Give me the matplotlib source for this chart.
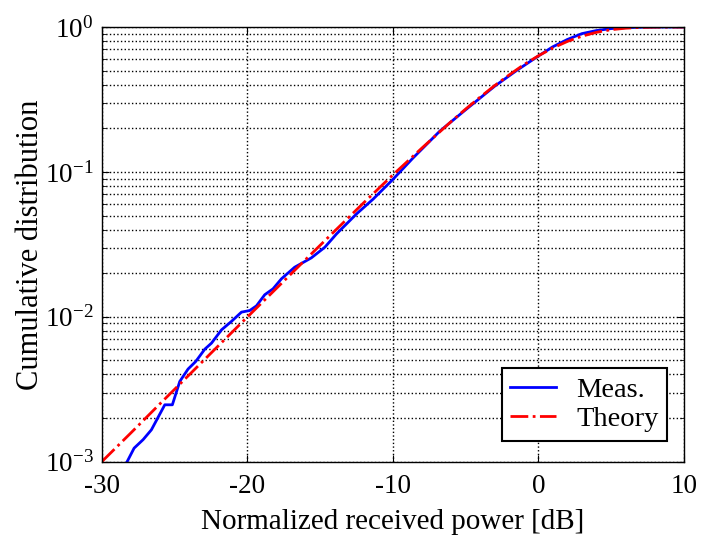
import matplotlib
matplotlib.use("Agg")
import matplotlib.pyplot as plt
from matplotlib.ticker import LogLocator, NullFormatter, FuncFormatter
import numpy as np

plt.rcParams['font.family'] = ['Liberation Serif', 'DejaVu Serif']
plt.rcParams['mathtext.fontset'] = 'custom'
plt.rcParams['mathtext.rm'] = 'Liberation Serif'
plt.rcParams['axes.unicode_minus'] = False

# theory curve
theory_x = [-30, -28, -26, -24, -22, -20, -18, -16, -14, -12, -10, -8, -6, -5, -4,
            -3, -2, -1, 0, 1, 2, 3, 4, 5, 6, 7, 8, 9, 10]
theory_y = [0.001, 0.00158, 0.00251, 0.00397, 0.00629, 0.00995, 0.0157, 0.0248,
            0.0390, 0.0612, 0.0952, 0.146, 0.222, 0.271, 0.328, 0.394, 0.467,
            0.549, 0.632, 0.716, 0.795, 0.864, 0.919, 0.958, 0.981, 0.9933,
            0.9982, 0.9995, 0.9995]

# measured curve
meas_x = [-28.26, -27.78, -27.16, -26.59, -25.67, -25.15, -24.64, -24.07, -23.54,
          -22.92, -22.46, -21.77, -21.09, -20.40, -19.83, -19.37, -18.80, -18.23,
          -17.65, -16.74, -15.6, -14.67, -13.87, -12.50, -11.35, -9.98, -8.60,
          -6.77, -5.0, -3.0, -1.5, 0.0, 1.0, 2.0, 3.0, 4.0, 5.0, 6.0, 7.0, 8.0, 10.0]
meas_y = [1.0e-3, 1.24e-3, 1.42e-3, 1.66e-3, 2.47e-3, 2.47e-3, 3.58e-3, 4.36e-3,
          4.92e-3, 5.98e-3, 6.58e-3, 8.13e-3, 9.29e-3, 1.077e-2, 1.105e-2, 1.19e-2,
          1.42e-2, 1.56e-2, 1.83e-2, 2.20e-2, 2.55e-2, 3.02e-2, 3.73e-2, 5.12e-2,
          6.49e-2, 8.9e-2, 0.125, 0.191, 0.268, 0.39, 0.50, 0.63, 0.73, 0.82, 0.90,
          0.945, 0.975, 0.99, 0.996, 0.999, 0.9995]

fig = plt.figure(figsize=(7.02, 5.40), dpi=100)
ax = fig.add_axes([0.145, 0.145, 0.829, 0.805])

ax.semilogy(meas_x, meas_y, color='blue', lw=2, label='Meas.')
ax.semilogy(theory_x, theory_y, color='red', lw=2, ls='-.', label='Theory')

ax.set_xlim(-30, 10)
ax.set_ylim(1e-3, 1)
ax.set_xticks([-30, -20, -10, 0, 10])
ax.yaxis.set_major_locator(LogLocator(base=10))
ax.yaxis.set_major_formatter(FuncFormatter(
    lambda v, p: r'$\mathregular{10^{%d}}$' % int(round(np.log10(v)))))
ax.yaxis.set_minor_locator(LogLocator(base=10, subs=range(2, 10)))
ax.yaxis.set_minor_formatter(NullFormatter())

ax.grid(True, which='major', color='black', ls=':', lw=1)
ax.grid(True, which='minor', axis='y', color='black', ls=':', lw=1)
ax.tick_params(which='both', direction='in', top=True, right=True, labelsize=19.5)
ax.tick_params(which='major', length=5)
ax.tick_params(which='minor', length=3)
ax.tick_params(axis='x', pad=9)
ax.tick_params(axis='y', pad=6)
for s in ax.spines.values():
    s.set_linewidth(1)

ax.set_xlabel('Normalized received power [dB]', fontsize=21, labelpad=7)
ax.set_ylabel('Cumulative distribution', fontsize=22, labelpad=0)

leg = ax.legend(loc='lower right', fontsize=20.5, fancybox=False, framealpha=1,
                edgecolor='black', handlelength=1.6, handletextpad=0.7,
                borderpad=0.3, borderaxespad=0, labelspacing=0.12,
                bbox_to_anchor=(0.971, 0.048))
leg.get_frame().set_linewidth(1.5)

fig.savefig('out.png', dpi=100)
